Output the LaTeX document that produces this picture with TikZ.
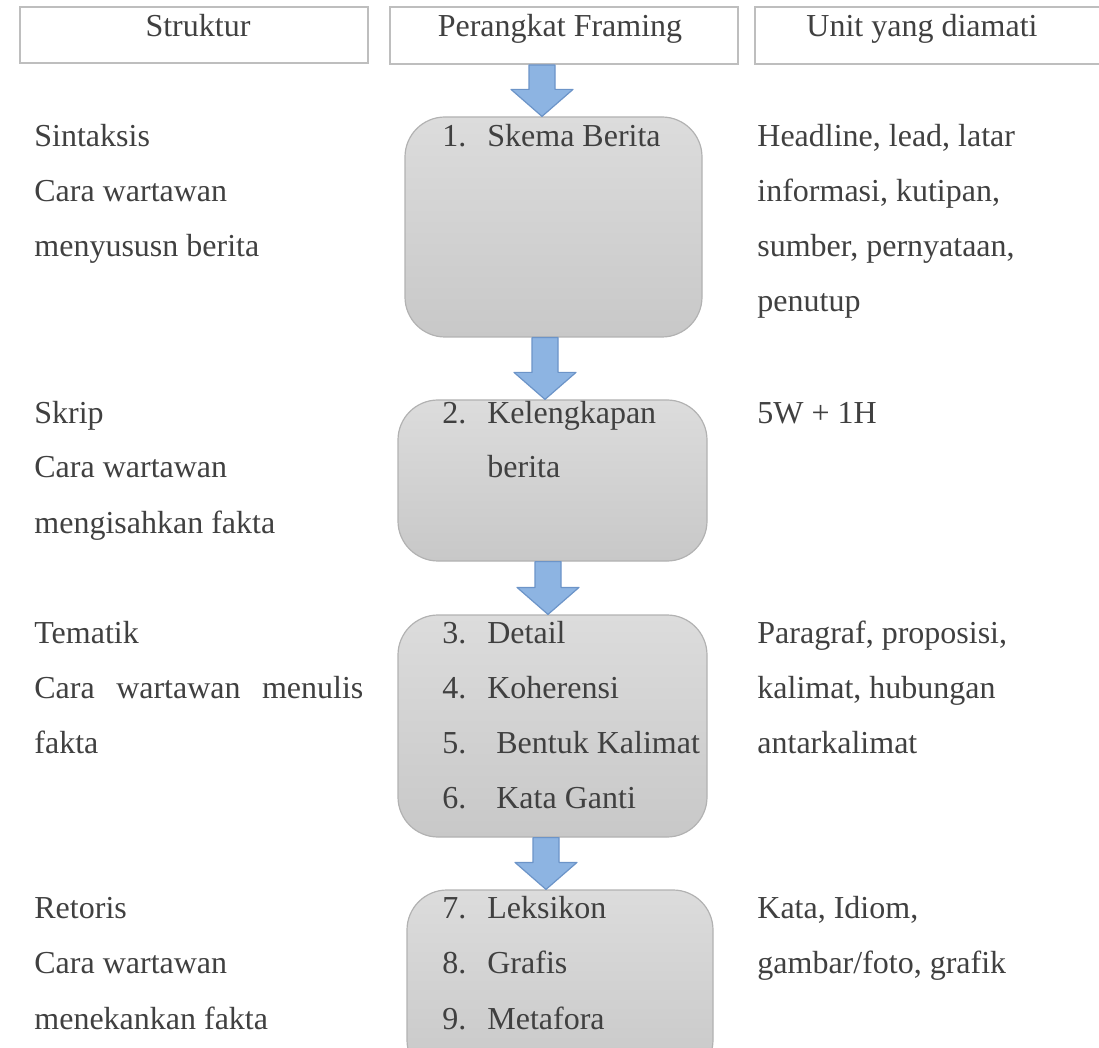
\documentclass[tikz,border=0pt]{standalone}
\usepackage{fontspec}
\setmainfont{Liberation Serif}
\usepackage{xcolor}
\definecolor{txtgray}{RGB}{64,64,64}
\definecolor{hdrline}{RGB}{190,190,190}
\definecolor{boxtop}{RGB}{220,220,220}
\definecolor{boxbot}{RGB}{200,200,200}
\definecolor{boxline}{RGB}{178,178,178}
\definecolor{arrblue}{RGB}{141,180,226}
\definecolor{arrline}{RGB}{108,148,200}
\usepackage{tikz}
\usetikzlibrary{calc,fit}

% block arrow from one box to the next, #3 = x of its axis
\newcommand{\flowarrow}[3]{%
  \draw[flow] let \p1=(#1.south), \p2=(#2.north), \p3=(#3,0) in
    (\x3-6.5pt,\y1) -- (\x3+6.5pt,\y1) -- (\x3+6.5pt,\y2+13.5pt) -- (\x3+15.5pt,\y2+13.5pt)
    -- (\x3,\y2) -- (\x3-15.5pt,\y2+13.5pt) -- (\x3-6.5pt,\y2+13.5pt) -- cycle;}

\begin{document}
\begin{tikzpicture}[x=0.5pt,y=-0.5pt,
  txt/.style={anchor=base west,inner sep=0pt,text=txtgray,font=\fontsize{16}{19}\selectfont},
  hdr/.style={draw=hdrline,line width=1pt,inner sep=0pt},
  stage/.style={draw=boxline,line width=0.6pt,top color=boxtop,bottom color=boxbot,rounded corners=20pt,inner sep=0pt},
  flow/.style={draw=arrline,fill=arrblue,line width=0.6pt,line join=round}]
  \useasboundingbox (0,0) rectangle (1099,1048);
  \clip (0,0) rectangle (1099,1048);

  % Column heads
  \node (hs) [hdr,fit={(20,7) (368,63)}] {};
  \node (hp) [hdr,fit={(390,7) (738,64)}] {};
  \node (hu) [hdr,fit={(755,7) (1110,64)}] {};
  \node (hst) [txt,anchor=base] at (198,37) {Struktur};
  \node (hpt) [txt,anchor=base] at (560,37) {Perangkat Framing};
  \node (hut) [txt,anchor=base] at (922,37) {Unit yang diamati};

  % Framing devices
  \node (b1) [stage,fit={(405,117) (702,337)}] {};
  \node (b2) [stage,fit={(398,400) (707,561)}] {};
  \node (b3) [stage,fit={(398,615) (707,837)}] {};
  \node (b4) [stage,fit={(407,890) (713,1080)}] {};

  \flowarrow{hp}{b1}{542}
  \flowarrow{b1}{b2}{545}
  \flowarrow{b2}{b3}{548}
  \flowarrow{b3}{b4}{546}

  \node (d1) [txt] at (442,147) {\makebox[22.5pt][l]{1.}Skema Berita};
  \node (d2) [txt] at (442,423) {\makebox[22.5pt][l]{2.}Kelengkapan};
  \node (d2b) [txt] at (487,478) {berita};
  \node (d3) [txt] at (442,643) {\makebox[22.5pt][l]{3.}Detail};
  \node (d4) [txt] at (442,698) {\makebox[22.5pt][l]{4.}Koherensi};
  \node (d5) [txt] at (442,753) {\makebox[27pt][l]{5.}Bentuk Kalimat};
  \node (d6) [txt] at (442,808) {\makebox[27pt][l]{6.}Kata Ganti};
  \node (d7) [txt] at (442,918) {\makebox[22.5pt][l]{7.}Leksikon};
  \node (d8) [txt] at (442,973) {\makebox[22.5pt][l]{8.}Grafis};
  \node (d9) [txt] at (442,1029) {\makebox[22.5pt][l]{9.}Metafora};

  % Structures
  \node (s1) [txt] at (34,147) {Sintaksis};
  \node (s2) [txt] at (34,202) {Cara wartawan};
  \node (s3) [txt] at (34,257) {menyususn berita};
  \node (k1) [txt] at (34,423) {Skrip};
  \node (k2) [txt] at (34,478) {Cara wartawan};
  \node (k3) [txt] at (34,533) {mengisahkan fakta};
  \node (t1) [txt] at (34,643) {Tematik};
  \node (t2) [txt] at (34,698) {\makebox[164.5pt][s]{Cara wartawan menulis}};
  \node (t3) [txt] at (34,753) {fakta};
  \node (r1) [txt] at (34,918) {Retoris};
  \node (r2) [txt] at (34,973) {Cara wartawan};
  \node (r3) [txt] at (34,1029) {menekankan fakta};

  % Observed units
  \node (u1) [txt] at (757,147) {Headline, lead, latar};
  \node (u2) [txt] at (757,202) {informasi, kutipan,};
  \node (u3) [txt] at (757,257) {sumber, pernyataan,};
  \node (u4) [txt] at (757,312) {penutup};
  \node (u5) [txt] at (757,423) {5W + 1H};
  \node (u6) [txt] at (757,643) {Paragraf, proposisi,};
  \node (u7) [txt] at (757,698) {kalimat, hubungan};
  \node (u8) [txt] at (757,753) {antarkalimat};
  \node (u9) [txt] at (757,918) {Kata, Idiom,};
  \node (u10) [txt] at (757,973) {gambar/foto, grafik};
\end{tikzpicture}
\end{document}
